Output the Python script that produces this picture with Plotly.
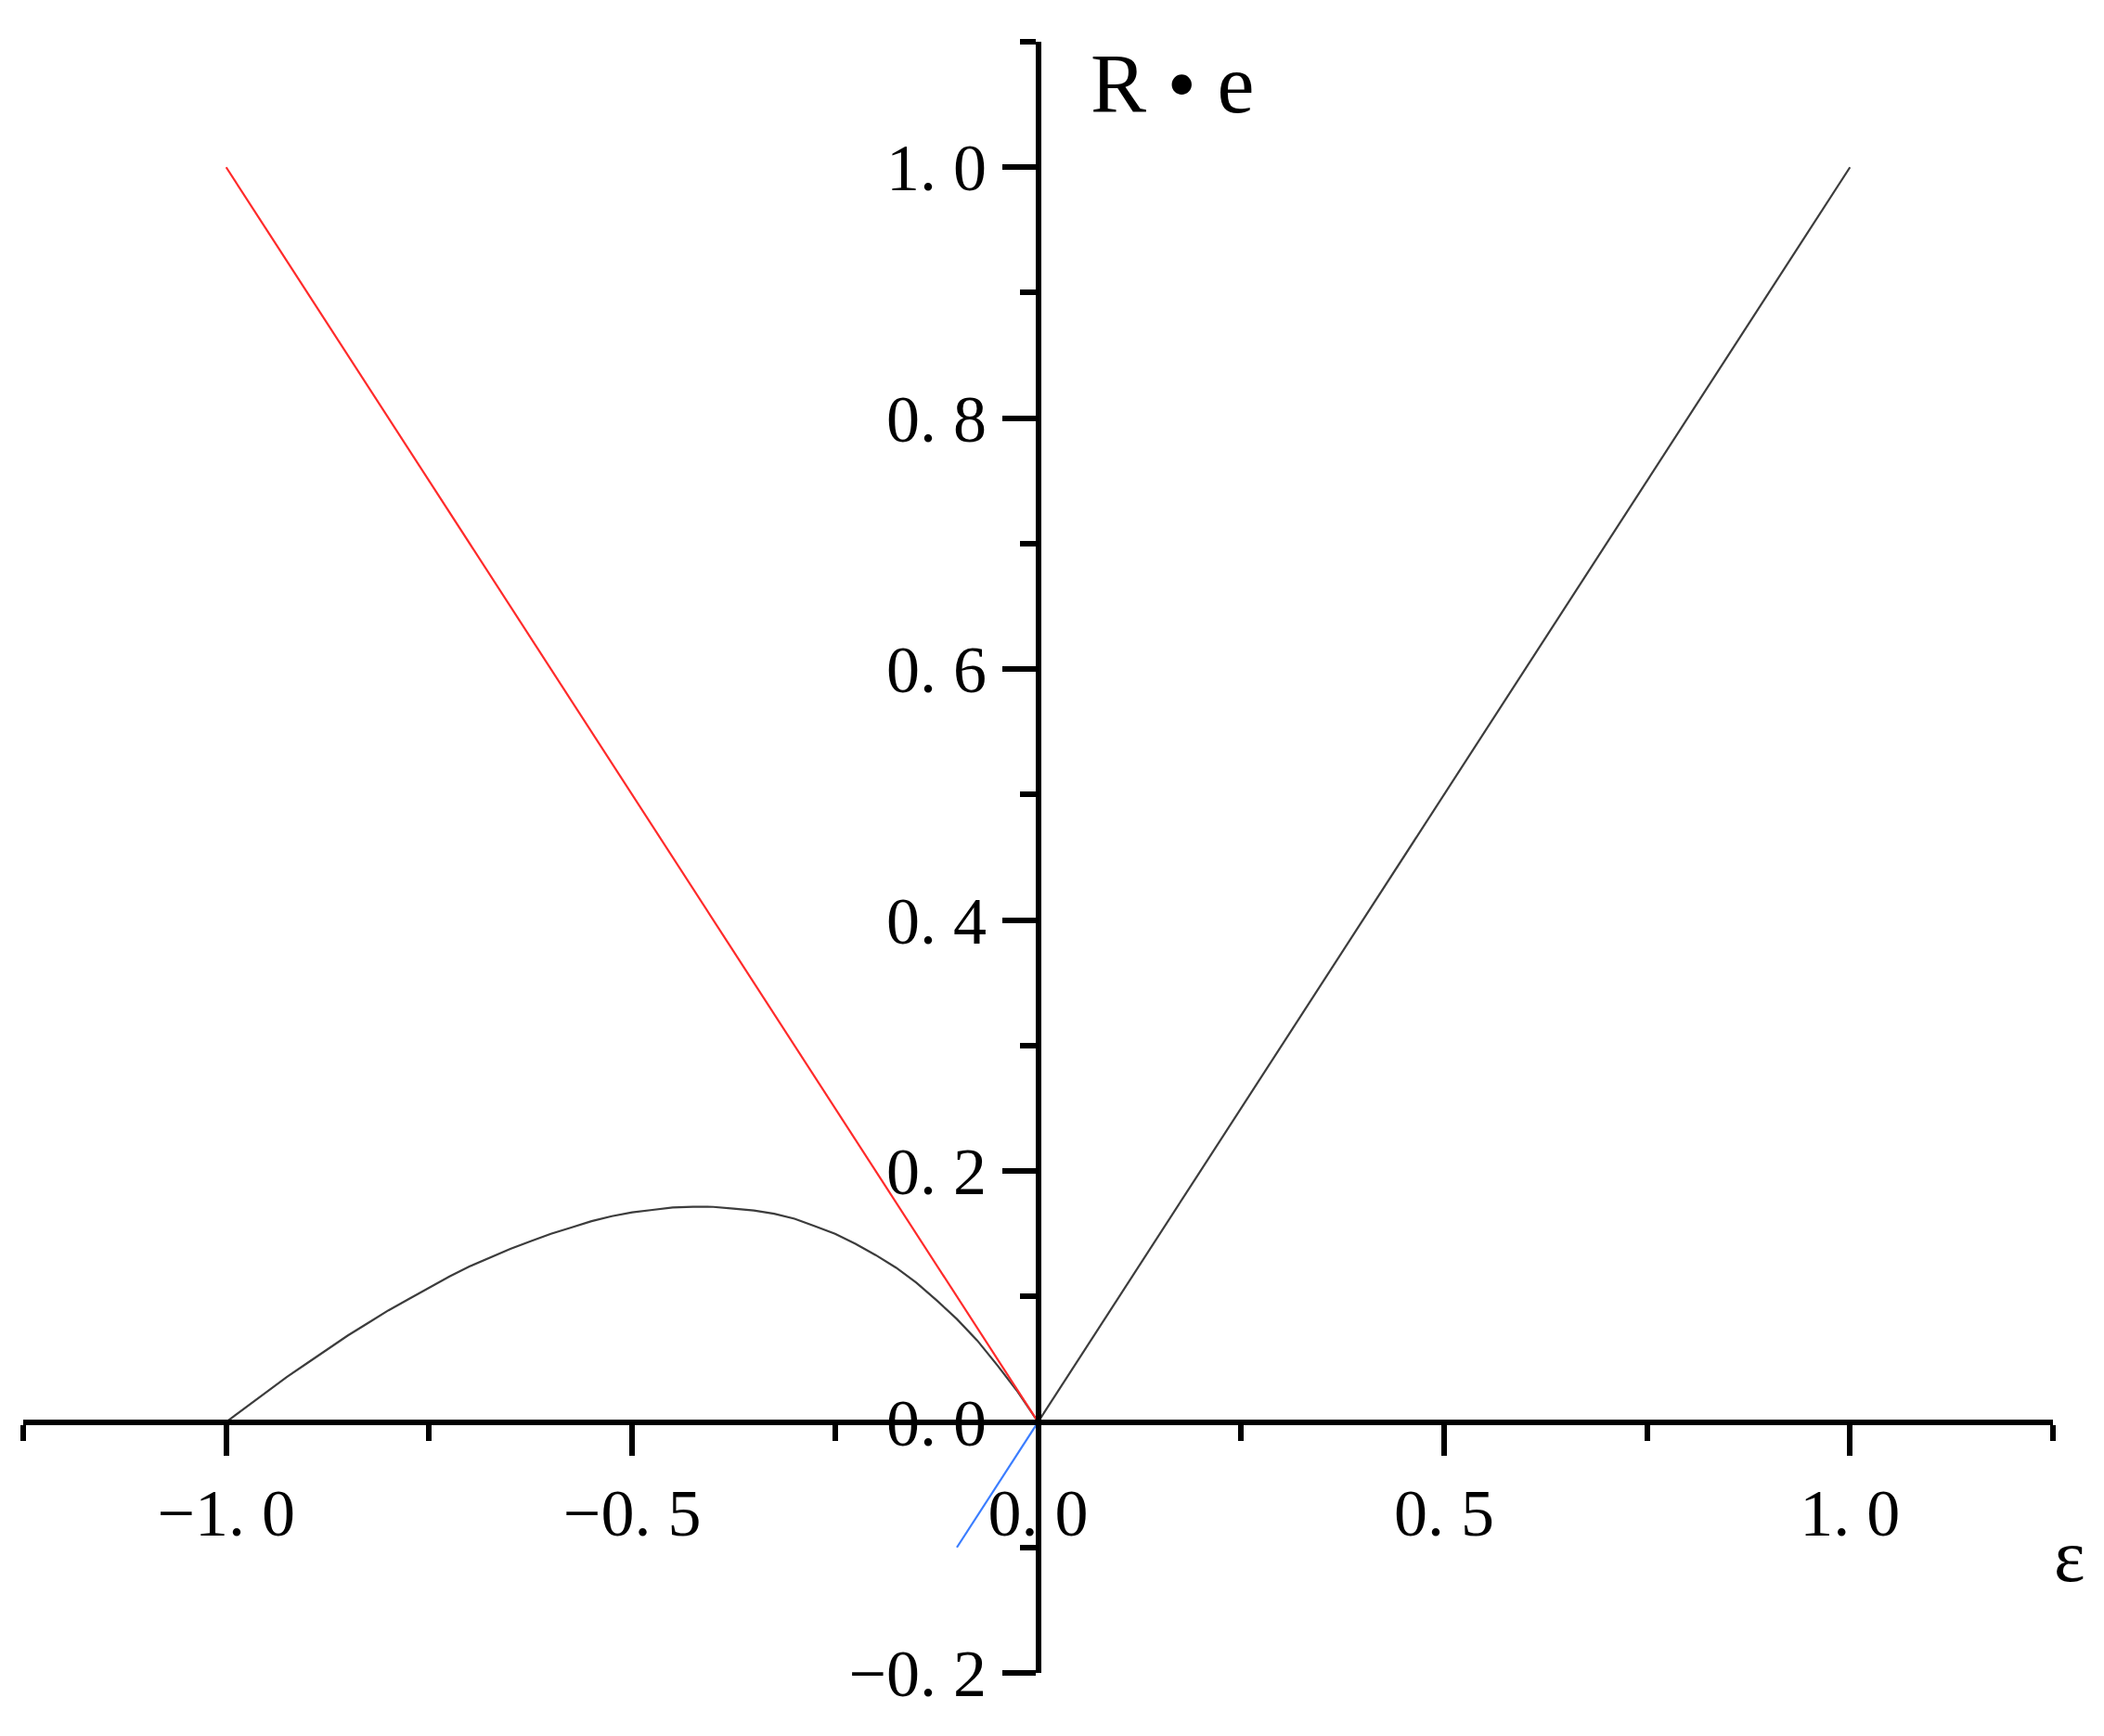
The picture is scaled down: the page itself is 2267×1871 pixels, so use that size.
import plotly.graph_objects as go

# ---- data ----
eps_curve = [-1.0, -0.975, -0.95, -0.925, -0.9, -0.875, -0.85, -0.825, -0.8, -0.775,
             -0.75, -0.725, -0.7, -0.675, -0.65, -0.625, -0.6, -0.575, -0.55, -0.525,
             -0.5, -0.475, -0.45, -0.425, -0.4, -0.375, -0.35, -0.325, -0.3, -0.275,
             -0.25, -0.225, -0.2, -0.175, -0.15, -0.125, -0.1, -0.075, -0.05, -0.025, 0.0]
re_curve = [0.0, 0.012, 0.024, 0.036, 0.047, 0.058, 0.069, 0.079, 0.089, 0.098,
            0.107, 0.116, 0.124, 0.131, 0.138, 0.144, 0.150, 0.155, 0.160, 0.164,
            0.167, 0.169, 0.171, 0.1715, 0.1714, 0.170, 0.1685, 0.166, 0.162, 0.156,
            0.150, 0.142, 0.133, 0.123, 0.111, 0.097, 0.082, 0.065, 0.045, 0.024, 0.0]

red_x = [-1.0, 0.0]
red_y = [1.0, 0.0]
black_line_x = [0.0, 1.0]
black_line_y = [0.0, 1.0]
blue_x = [-0.1, 0.0]
blue_y = [-0.1, 0.0]

x_major = [-1.0, -0.5, 0.0, 0.5, 1.0]
x_major_text = ["\u22121. 0", "\u22120. 5", "0. 0", "0. 5", "1. 0"]
x_minor = [-1.25, -0.75, -0.25, 0.25, 0.75, 1.25]
y_major = [-0.2, 0.0, 0.2, 0.4, 0.6, 0.8, 1.0]
y_major_text = ["\u22120. 2", "0. 0", "0. 2", "0. 4", "0. 6", "0. 8", "1. 0"]
y_minor = [-0.1, 0.1, 0.3, 0.5, 0.7, 0.9, 1.1]

X_RANGE = [-1.25, 1.25]
Y_RANGE = [-0.2, 1.1]

FONT = "Liberation Serif, Times New Roman, serif"

fig = go.Figure()
fig.add_trace(go.Scatter(x=eps_curve, y=re_curve, mode="lines",
                         line=dict(color="#3c3c3c", width=2.2), showlegend=False))
fig.add_trace(go.Scatter(x=red_x, y=red_y, mode="lines",
                         line=dict(color="#ff2a2a", width=2.2), showlegend=False))
fig.add_trace(go.Scatter(x=black_line_x, y=black_line_y, mode="lines",
                         line=dict(color="#3c3c3c", width=2.2), showlegend=False))
fig.add_trace(go.Scatter(x=blue_x, y=blue_y, mode="lines",
                         line=dict(color="#3a7dff", width=2.2), showlegend=False))

x_zero_pos = (0 - Y_RANGE[0]) / (Y_RANGE[1] - Y_RANGE[0])
y_zero_pos = (0 - X_RANGE[0]) / (X_RANGE[1] - X_RANGE[0])

fig.update_layout(
    width=2267, height=1871,
    margin=dict(l=17, r=63, t=37, b=76),
    paper_bgcolor="white", plot_bgcolor="white",
    font=dict(family=FONT, color="black", size=72),
    xaxis=dict(range=X_RANGE, anchor="free", position=x_zero_pos, side="bottom",
               showgrid=False, zeroline=False, showline=True, linecolor="black", linewidth=6,
               ticks="outside", ticklen=33, tickwidth=6, tickcolor="black",
               tickmode="array", tickvals=x_major, ticktext=x_major_text,
               ticklabelstandoff=0,
               minor=dict(tickmode="array", tickvals=x_minor, ticks="outside",
                          ticklen=17, tickwidth=6, tickcolor="black", showgrid=False),
               tickfont=dict(family=FONT, size=72, color="black")),
    yaxis=dict(range=Y_RANGE, anchor="free", position=y_zero_pos, side="left",
               showgrid=False, zeroline=False, showline=True, linecolor="black", linewidth=6,
               ticks="outside", ticklen=36, tickwidth=6, tickcolor="black",
               tickmode="array", tickvals=y_major, ticktext=y_major_text,
               ticklabelstandoff=2,
               minor=dict(tickmode="array", tickvals=y_minor, ticks="outside",
                          ticklen=17, tickwidth=6, tickcolor="black", showgrid=False),
               tickfont=dict(family=FONT, size=72, color="black")),
)

fig.add_annotation(x=0.165, y=1.066, xref="x", yref="y", text="R \u2022 e",
                   showarrow=False, font=dict(family=FONT, size=90, color="black"))
fig.add_annotation(x=1.017, y=0.0457, xref="paper", yref="paper", text="\u03b5",
                   showarrow=False, font=dict(family=FONT, size=80, color="black"))

fig.write_html("out.html")
